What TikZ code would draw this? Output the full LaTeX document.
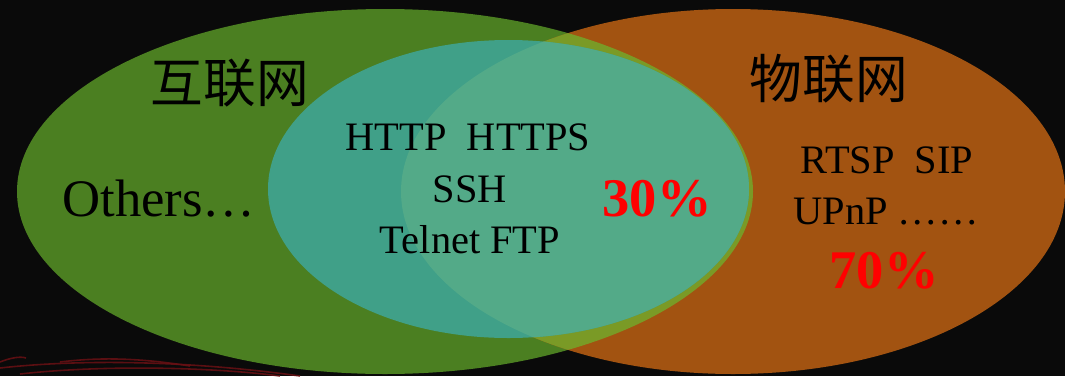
\documentclass[tikz,border=0pt]{standalone}
\usepackage{fontspec}
\setmainfont{Liberation Serif}
\newfontfamily\cjk{Noto Sans CJK SC}
\definecolor{fondo}{HTML}{0A0A0A}
\definecolor{verde}{HTML}{4B7F21}
\definecolor{naranja}{HTML}{A25311}
\definecolor{oliva}{HTML}{7A9A26}
\definecolor{tealA}{HTML}{40A088}
\definecolor{tealB}{HTML}{53AA88}
\definecolor{rayas}{HTML}{6A1014}
\begin{document}
\begin{tikzpicture}[x=0.02cm,y=-0.02cm,
    titulo/.style={font=\cjk\fontsize{30}{34}\selectfont,text=black},
    proto/.style={anchor=base,font=\fontsize{23}{27}\selectfont,text=black},
    pct/.style={anchor=base,font=\bfseries\fontsize{31}{35}\selectfont,text=red},
    rayita/.style={draw=rayas,line width=0.9pt,opacity=0.85}]
    % Fondo
    \fill[fondo] (0,0) rectangle (1065,376);
    \useasboundingbox (0,0) rectangle (1065,376);

    % Conjuntos
    \coordinate (G) at (385,191.5);
    \coordinate (O) at (733,191.5);
    \coordinate (T) at (508.5,189);

    \fill[verde] (G) ellipse [x radius=368,y radius=182.5];
    \fill[naranja] (O) ellipse [x radius=332,y radius=182.5];
    \begin{scope}
    \clip (G) ellipse [x radius=368,y radius=182.5];
    \fill[oliva] (O) ellipse [x radius=332,y radius=182.5];
    \end{scope}
    \fill[tealA] (T) ellipse [x radius=240.5,y radius=149];
    \begin{scope}
    \clip (T) ellipse [x radius=240.5,y radius=149];
    \fill[tealB] (O) ellipse [x radius=332,y radius=182.5];
    \end{scope}

    % Rayas abajo a la izquierda
    \draw[rayita] (0,368) .. controls (90,358) and (200,362) .. (300,376);
    \draw[rayita] (20,374) .. controls (110,364) and (220,368) .. (280,376);
    \draw[rayita] (0,362) .. controls (10,358) and (20,356) .. (26,358);
    \draw[rayita] (60,362) .. controls (100,357) and (140,358) .. (190,366);

    % Textos
    \node (internet) at (230,83) [titulo] {互联网};
    \node (iot) at (829,79) [titulo] {物联网};
    \node (otros) at (159,216) [anchor=base,font=\fontsize{30}{34}\selectfont] {Others…};
    \node (web) at (468,150) [proto] {HTTP\ \ HTTPS};
    \node (ssh) at (470,202) [proto] {SSH};
    \node (telnet) at (470,253) [proto] {Telnet FTP};
    \node (p30) at (657,216) [pct] {30\%};
    \node (rtsp) at (887,173) [proto] {RTSP\ \ SIP};
    \node (upnp) at (886,224) [proto] {UPnP ……};
    \node (p70) at (884,288) [pct] {70\%};
\end{tikzpicture}
\end{document}
